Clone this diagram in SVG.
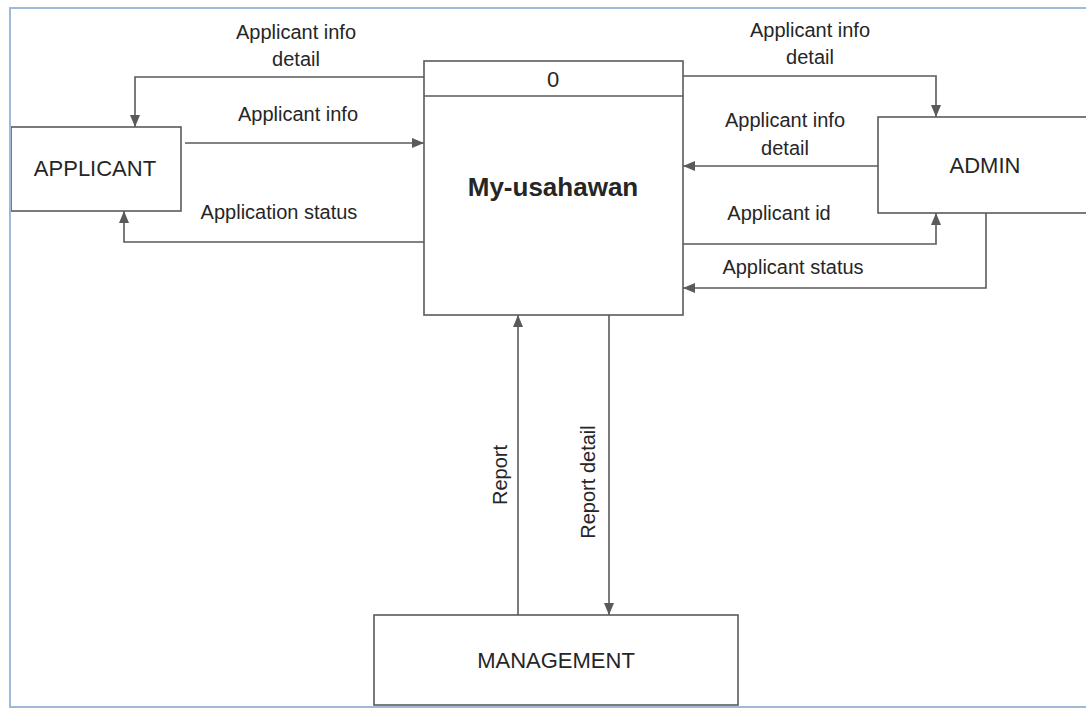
<svg xmlns="http://www.w3.org/2000/svg" width="1086" height="708" viewBox="0 0 1086 708">
  <defs>
    <style>
      .box { fill: #ffffff; stroke: #5a5a5a; stroke-width: 1.6; }
      .flow { fill: none; stroke: #5a5a5a; stroke-width: 1.6; marker-end: url(#arrow); }
      .lbl { font-family: "Liberation Sans", Arial, sans-serif; font-size: 20px; fill: #262626; text-anchor: middle; }
      .name { font-family: "Liberation Sans", Arial, sans-serif; font-size: 22px; fill: #262626; text-anchor: middle; }
      .title { font-family: "Liberation Sans", Arial, sans-serif; font-size: 26px; font-weight: bold; fill: #262626; text-anchor: middle; }
    </style>
    <marker id="arrow" viewBox="0 0 12 10" refX="12" refY="5" markerWidth="12" markerHeight="10" markerUnits="userSpaceOnUse" orient="auto">
      <path d="M0,0 L12,5 L0,10 z" fill="#5a5a5a"/>
    </marker>
  </defs>

  <rect x="0" y="0" width="1086" height="708" fill="#ffffff"/>

  <!-- data flows -->
  <g id="connectors">
    <path class="flow" d="M424,77 H135 V127"/>
    <path class="flow" d="M185,143 H424"/>
    <path class="flow" d="M424,242 H124 V211"/>
    <path class="flow" d="M683,76 H936 V117"/>
    <path class="flow" d="M878,166 H683"/>
    <path class="flow" d="M683,244 H936 V213"/>
    <path class="flow" d="M986,213 V288 H683"/>
    <path class="flow" d="M518,615 V315"/>
    <path class="flow" d="M609,315 V615"/>

    <text class="lbl" x="296" y="39">Applicant info</text>
    <text class="lbl" x="296" y="66">detail</text>
    <text class="lbl" x="298" y="121">Applicant info</text>
    <text class="lbl" x="279" y="219">Application status</text>

    <text class="lbl" x="810" y="37">Applicant info</text>
    <text class="lbl" x="810" y="64">detail</text>
    <text class="lbl" x="785" y="127">Applicant info</text>
    <text class="lbl" x="785" y="155">detail</text>
    <text class="lbl" x="779" y="220">Applicant id</text>
    <text class="lbl" x="793" y="274">Applicant status</text>

    <text class="lbl" transform="translate(507,475) rotate(-90)">Report</text>
    <text class="lbl" transform="translate(595,482) rotate(-90)">Report detail</text>
  </g>

  <g id="applicant">
    <rect class="box" x="11" y="127" width="170" height="84"/>
    <text class="name" x="95" y="176">APPLICANT</text>
  </g>

  <g id="process-0">
    <rect class="box" x="424" y="61" width="259" height="254"/>
    <line x1="424" y1="96" x2="683" y2="96" stroke="#5a5a5a" stroke-width="1.6"/>
    <text class="name" x="553" y="87" font-size="24">0</text>
    <text class="title" x="553" y="196">My-usahawan</text>
  </g>

  <g id="admin">
    <rect class="box" x="878" y="117" width="220" height="96"/>
    <text class="name" x="985" y="173">ADMIN</text>
  </g>

  <g id="management">
    <rect class="box" x="374" y="615" width="364" height="90"/>
    <text class="name" x="556" y="668">MANAGEMENT</text>
  </g>

  <!-- page frame -->
  <rect x="10" y="8" width="1086" height="699" fill="none" stroke="#9dbad6" stroke-width="2"/>
</svg>
